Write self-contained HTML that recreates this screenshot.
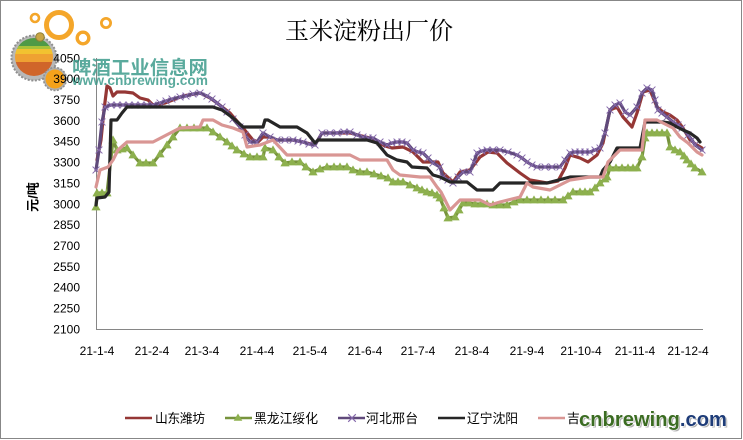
<!DOCTYPE html>
<html>
<head>
<meta charset="utf-8">
<style>
html,body{margin:0;padding:0;background:#fff;}
svg{display:block;}
</style>
</head>
<body>
<svg width="743" height="440" viewBox="0 0 743 440" xmlns="http://www.w3.org/2000/svg">
<defs>
  <marker id="tri" viewBox="-5 -5 10 10" markerWidth="10" markerHeight="10" refX="0" refY="0" markerUnits="userSpaceOnUse" overflow="visible">
    <path d="M0,-4.6 L4.6,3.4 L-4.6,3.4 Z" fill="#8DB04E"/>
  </marker>
  <marker id="xm" viewBox="-5 -5 10 10" markerWidth="9" markerHeight="9" refX="0" refY="0" markerUnits="userSpaceOnUse" overflow="visible">
    <path d="M-3.8,-3.8 L3.8,3.8 M-3.8,3.8 L3.8,-3.8" stroke="#8468AA" stroke-width="1.1" fill="none"/>
  </marker>
  <clipPath id="capclip"><circle cx="34" cy="57" r="19"/></clipPath>
</defs>

<rect x="0" y="0" width="743" height="440" fill="#fff"/>
<rect x="0.5" y="0.5" width="741" height="438" fill="none" stroke="#878787" stroke-width="1"/>

<!-- logo -->
<g>
  <circle cx="35" cy="18" r="4" fill="none" stroke="#F4A62A" stroke-width="2.6"/>
  <circle cx="59" cy="25" r="12.5" fill="none" stroke="#F4A62A" stroke-width="5"/>
  <circle cx="83" cy="38" r="5.8" fill="none" stroke="#F4A62A" stroke-width="3.4"/>
  <circle cx="106" cy="23" r="4.6" fill="none" stroke="#F4A62A" stroke-width="2.8"/>
  <circle cx="34" cy="58" r="22.5" fill="#B8B8B8" stroke="#8f8f8f" stroke-width="2" stroke-dasharray="2 1.6"/>
  <g clip-path="url(#capclip)">
    <rect x="14" y="36" width="40" height="11" fill="#4F9A46"/>
    <rect x="14" y="46" width="40" height="3" fill="#A8C23A"/>
    <rect x="14" y="49" width="40" height="5" fill="#F2C230"/>
    <rect x="14" y="54" width="40" height="8" fill="#EFA132"/>
    <rect x="14" y="62" width="40" height="16" fill="#D0652A"/>
  </g>
  <circle cx="40" cy="37" r="4.3" fill="#C9A646" stroke="#8F7F36" stroke-width="1"/>
  <circle cx="55" cy="79" r="11.5" fill="#AFAFAF" stroke="#8f8f8f" stroke-width="1.5" stroke-dasharray="2 1.5"/>
  <circle cx="55" cy="79" r="9.5" fill="#F5A21B"/>
</g>

<!-- title -->
<text x="369" y="39" font-family="'Noto Serif CJK SC','Noto Sans CJK SC',serif" font-size="24" text-anchor="middle" fill="#000" textLength="168">玉米淀粉出厂价</text>

<!-- axes -->
<line x1="96.5" y1="58" x2="96.5" y2="329.5" stroke="#868686" stroke-width="1"/>
<line x1="96" y1="329.5" x2="703" y2="329.5" stroke="#868686" stroke-width="1"/>

<!-- y labels -->
<g font-family="'Liberation Sans',sans-serif" font-size="12" fill="#000" text-anchor="end">
  <text x="80" y="62.3">4050</text>
  <text x="80" y="83.2">3900</text>
  <text x="80" y="104">3750</text>
  <text x="80" y="124.9">3600</text>
  <text x="80" y="145.7">3450</text>
  <text x="80" y="166.6">3300</text>
  <text x="80" y="187.4">3150</text>
  <text x="80" y="208.3">3000</text>
  <text x="80" y="229.1">2850</text>
  <text x="80" y="250">2700</text>
  <text x="80" y="270.8">2550</text>
  <text x="80" y="291.7">2400</text>
  <text x="80" y="312.5">2250</text>
  <text x="80" y="333.4">2100</text>
</g>

<!-- y title -->
<text transform="translate(33,197) rotate(-90)" font-family="'Liberation Sans','Noto Sans CJK SC',sans-serif" font-size="13" font-weight="bold" text-anchor="middle" dominant-baseline="central" fill="#000">元/吨</text>

<!-- x labels -->
<g font-family="'Liberation Sans',sans-serif" font-size="12" fill="#000" text-anchor="middle">
  <text x="97" y="355">21-1-4</text>
  <text x="152" y="355">21-2-4</text>
  <text x="202" y="355">21-3-4</text>
  <text x="257" y="355">21-4-4</text>
  <text x="310" y="355">21-5-4</text>
  <text x="365" y="355">21-6-4</text>
  <text x="418" y="355">21-7-4</text>
  <text x="472" y="355">21-8-4</text>
  <text x="527" y="355">21-9-4</text>
  <text x="581" y="355">21-10-4</text>
  <text x="635" y="355">21-11-4</text>
  <text x="688" y="355">21-12-4</text>
</g>

<!-- series -->
<g fill="none" stroke-width="3.2" stroke-linejoin="round" stroke-linecap="round">
  <!-- 山东潍坊 -->
  <polyline stroke="#953735" points="97,160 101,140 104,110 107,86 110,88 113,96 117,92 125,92 133,93 140,98 148,100 153,105 165,103 183,96 200,93 210,98 217,103 230,113 243,128 253,140 258,142 263,137 270,137 277,140 293,140 303,142 315,145 322,133 350,133 370,138 385,146 392,148 403,147 413,152 423,162 438,162 443,173 453,182 460,172 470,170 480,157 488,152 497,153 507,163 520,173 530,180 547,183 558,181 565,168 570,155 580,158 588,162 597,155 603,143 610,110 617,107 623,117 632,127 637,113 643,92 650,90 657,107 663,112 670,115 677,120 683,128 690,140 697,145 702,148"/>
  <!-- 黑龙江绥化 -->
  <polyline stroke="#77933C" marker-start="url(#tri)" marker-mid="url(#tri)" marker-end="url(#tri)" points="96,207 97,193 102,193 107,193 113,140 117,150 122,149 127,148 133,155 140,163 146,163 153,163 160,154 167,145 173,137 180,128 187,128 194,128 200,128 207,128 213,132 220,137 227,142 232,146 237,150 244,154 250,157 257,157 263,157 265,148 273,150 279,157 285,163 292,162 300,162 306,167 313,172 320,169 327,167 334,167 340,167 347,167 353,170 360,172 367,172 374,174 381,176 388,178 393,182 398,182 403,182 410,185 417,188 422,190 427,192 432,193 437,195 440,198 444,208 448,218 455,217 459,210 463,203 469,203 475,204 481,204 487,204 493,205 500,205 507,205 514,202 520,200 527,200 534,200 541,200 548,200 555,200 563,200 568,196 573,192 580,192 585,192 590,192 595,188 600,183 605,179 607,177 610,168 616,168 622,168 628,168 633,168 637,168 642,157 645,138 647,133 652,133 657,133 662,133 667,133 670,147 675,150 680,152 684,156 687,160 691,164 695,168 702,172"/>
  <!-- 河北邢台 -->
  <polyline stroke="#604A7B" marker-start="url(#xm)" marker-mid="url(#xm)" marker-end="url(#xm)" points="96,170 99,150 102,122 105,107 111,105 117,105 123,105 129,105 135,105 141,105 147,105 153,105 160,103 166,101 172,99 180,97 186,96 193,94 200,93 207,96 212,99 217,103 222,107 227,112 233,119 240,127 245,135 250,142 257,142 263,133 270,137 277,140 285,140 293,140 298,141 303,142 309,144 315,145 322,133 330,133 337,133 344,132 350,132 357,135 363,137 368,138 373,138 380,142 387,145 392,143 397,142 402,142 407,143 413,150 418,152 423,153 428,158 433,163 440,167 443,177 448,180 453,183 458,177 463,172 470,172 474,162 477,153 482,151 487,150 493,150 500,150 508,152 517,155 522,158 527,162 532,165 537,167 545,167 552,167 560,167 565,160 570,153 575,152 580,152 585,152 590,152 595,150 600,148 605,133 610,110 615,105 620,103 625,112 630,115 637,107 642,93 647,88 652,90 655,100 658,110 662,113 667,117 673,122 678,125 682,128 688,135 692,140 695,145 702,150"/>
  <!-- 辽宁沈阳 -->
  <polyline stroke="#262626" points="96,205 97,198 105,197 109,192 111,120 117,120 122,113 127,107 213,107 222,110 233,118 243,127 263,127 265,120 268,120 280,127 297,127 307,133 315,143 318,140 367,140 377,143 387,155 397,160 407,162 412,167 427,168 433,175 440,177 450,182 467,182 477,190 493,190 500,183 547,183 570,177 600,177 603,170 610,162 617,148 640,148 645,122 662,122 670,123 677,127 683,130 690,133 697,138 700,142"/>
  <!-- 吉林 -->
  <polyline stroke="#D99694" points="96,187 100,170 108,167 113,160 118,150 127,142 153,142 180,128 200,127 203,120 213,120 222,125 233,128 243,132 247,147 260,145 273,140 287,155 350,155 360,160 387,160 393,170 400,175 420,177 430,177 437,187 441,192 445,200 450,210 455,205 460,200 480,200 490,205 500,202 520,197 527,183 533,187 550,190 570,180 590,177 603,177 608,162 620,150 642,150 645,120 657,120 667,125 673,128 680,137 688,143 697,152 702,155"/>
</g>

<!-- top watermark -->
<g opacity="0.85">
  <text x="72" y="74" font-family="'Liberation Sans','Noto Sans CJK SC',sans-serif" font-size="19" font-weight="bold" fill="#3E9C8C" textLength="136" lengthAdjust="spacingAndGlyphs">啤酒工业信息网</text>
  <text x="72" y="85" font-family="'Liberation Sans',sans-serif" font-size="13.5" font-weight="bold" fill="#3E9C8C" textLength="136" lengthAdjust="spacingAndGlyphs">www.cnbrewing.com</text>
</g>

<!-- legend -->
<g font-family="'Liberation Sans','Noto Sans CJK SC',sans-serif" font-size="12.8" fill="#000">
  <line x1="125" y1="418" x2="152" y2="418" stroke="#953735" stroke-width="2.5"/>
  <text x="155" y="423" textLength="50">山东潍坊</text>
  <line x1="225" y1="418" x2="252" y2="418" stroke="#77933C" stroke-width="2.5"/>
  <path d="M238,413.5 L242.3,420.8 L233.7,420.8 Z" fill="#8DB04E"/>
  <text x="254" y="423" textLength="64">黑龙江绥化</text>
  <line x1="338" y1="418" x2="365" y2="418" stroke="#604A7B" stroke-width="2.5"/>
  <path d="M348.2,414.2 L355.8,421.8 M348.2,421.8 L355.8,414.2" stroke="#8468AA" stroke-width="1.1"/>
  <text x="366" y="423" textLength="52">河北邢台</text>
  <line x1="438" y1="418" x2="465" y2="418" stroke="#262626" stroke-width="2.5"/>
  <text x="467" y="423" textLength="51">辽宁沈阳</text>
  <line x1="538" y1="418" x2="565" y2="418" stroke="#D99694" stroke-width="2.5"/>
  <text x="567" y="423">吉林</text>
</g>

<!-- bottom watermark -->
<rect x="579" y="405" width="150" height="26" fill="#fff"/>
<text x="580.5" y="427.5" font-family="'Liberation Sans',sans-serif" font-size="20" font-weight="bold" fill="#B0B0B0" textLength="148" lengthAdjust="spacingAndGlyphs">cnbrewing.com</text>
<text x="579" y="426" font-family="'Liberation Sans',sans-serif" font-size="20" font-weight="bold" textLength="148" lengthAdjust="spacingAndGlyphs" stroke="#fff" stroke-width="1.2" paint-order="stroke"><tspan fill="#3B6C22">cnbrewing</tspan><tspan fill="#1E3C78">.com</tspan></text>
</svg>
</body>
</html>
